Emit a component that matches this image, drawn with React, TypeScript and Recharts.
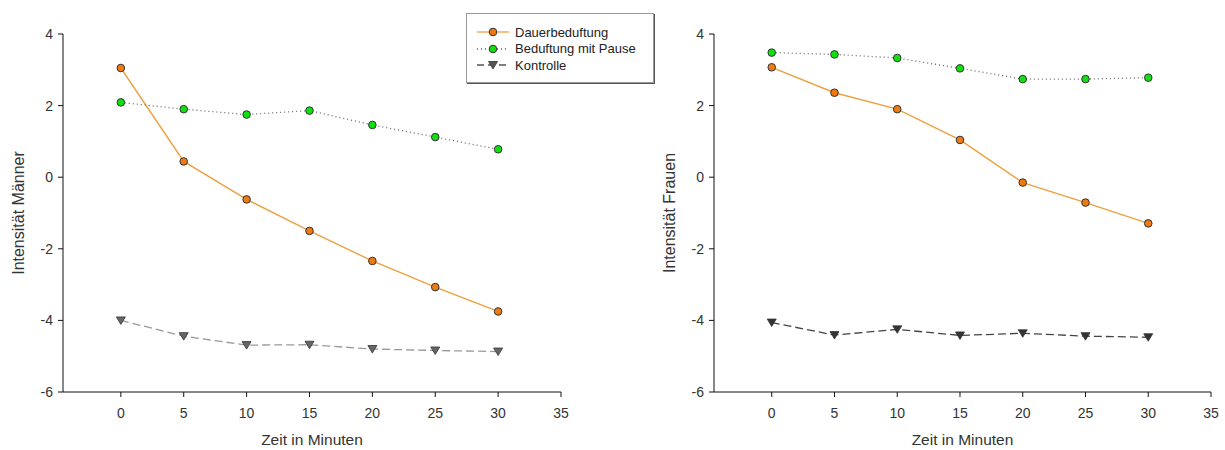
import React from "react";
import { LineChart, Line, XAxis, YAxis } from "recharts";

// ── data ──
const minutes = [0, 5, 10, 15, 20, 25, 30];
const seriesNames = ["Dauerbeduftung", "Beduftung mit Pause", "Kontrolle"];

const maennerDauer = [3.05, 0.44, -0.62, -1.5, -2.34, -3.07, -3.75];
const maennerPause = [2.09, 1.9, 1.75, 1.86, 1.46, 1.12, 0.78];
const maennerKontrolle = [-4.0, -4.44, -4.69, -4.68, -4.8, -4.84, -4.87];

const frauenDauer = [3.07, 2.36, 1.9, 1.04, -0.15, -0.71, -1.29];
const frauenPause = [3.48, 3.43, 3.33, 3.04, 2.74, 2.74, 2.78];
const frauenKontrolle = [-4.06, -4.41, -4.25, -4.42, -4.36, -4.44, -4.47];

const xTicks = [0, 5, 10, 15, 20, 25, 30, 35];
const yTicks = [-6, -4, -2, 0, 2, 4];

const buildRows = (a: number[], b: number[], c: number[]) =>
  minutes.map((m, i) => ({ t: m, dauer: a[i], pause: b[i], kontrolle: c[i] }));

const maennerRows = buildRows(maennerDauer, maennerPause, maennerKontrolle);
const frauenRows = buildRows(frauenDauer, frauenPause, frauenKontrolle);

const FONT = "'Liberation Sans', Arial, sans-serif";
const TEXT = "#333";

const ORANGE_LINE = "#EDA040";
const ORANGE_DOT = "#F07A10";
const GREEN_DOT = "#10E010";

// ── markers ──
const Circle = ({ cx, cy, fill }: any) =>
  cx == null || cy == null ? null : (
    <circle cx={cx} cy={cy} r={3.8} fill={fill} stroke="#333" strokeWidth={1} />
  );

const Triangle = ({ cx, cy, fill }: any) =>
  cx == null || cy == null ? null : (
    <path
      d={`M${cx - 4.5},${cy - 3.5} L${cx + 4.5},${cy - 3.5} L${cx},${cy + 4} Z`}
      fill={fill}
      stroke="#333"
      strokeWidth={0.8}
    />
  );

// ── legend box ──
const LegendBox = () => {
  const rows = [
    { stroke: ORANGE_LINE, dash: undefined, marker: "c", fill: ORANGE_DOT },
    { stroke: "#666", dash: "1 3", marker: "c", fill: GREEN_DOT },
    { stroke: "#555", dash: "7 4", marker: "t", fill: "#555" },
  ];
  return (
    <div
      style={{
        position: "absolute",
        left: 466,
        top: 13,
        width: 188,
        height: 70,
        border: "1px solid #999",
        boxShadow: "1px 1px 0 #555",
        background: "#fff",
        fontFamily: FONT,
        fontSize: 13,
        color: "#222",
        paddingTop: 10,
        boxSizing: "border-box",
      }}
    >
      {rows.map((r, i) => (
        <div key={i} style={{ display: "flex", alignItems: "center", height: 16.5 }}>
          <svg width={48} height={14} style={{ flex: "none" }}>
            <line x1={10} y1={7} x2={42} y2={7} stroke={r.stroke} strokeWidth={1.3} strokeDasharray={r.dash} />
            {r.marker === "c" ? (
              <Circle cx={26} cy={7} fill={r.fill} />
            ) : (
              <Triangle cx={26} cy={7} fill={r.fill} />
            )}
          </svg>
          <span style={{ whiteSpace: "nowrap" }}>{seriesNames[i]}</span>
        </div>
      ))}
    </div>
  );
};

function Panel({
  rows,
  yLabel,
  width,
  marginRight,
  kontrolleColor,
  kontrolleFill,
}: {
  rows: any[];
  yLabel: string;
  width: number;
  marginRight: number;
  kontrolleColor: string;
  kontrolleFill: string;
}) {
  return (
    <LineChart width={width} height={450} data={rows} margin={{ top: 34, right: marginRight, bottom: 0, left: 0 }}>
      <XAxis
        dataKey="t"
        type="number"
        domain={[-4.6, 35]}
        ticks={xTicks}
        allowDataOverflow
        height={58}
        stroke="#111"
        tickSize={5}
        tickMargin={11}
        tick={{ fill: TEXT, fontSize: 14, fontFamily: FONT }}
        label={{
          value: "Zeit in Minuten",
          position: "insideBottom",
          offset: 5,
          style: { fill: TEXT, fontSize: 15.5, fontFamily: FONT },
        }}
      />
      <YAxis
        type="number"
        domain={[-6, 4]}
        ticks={yTicks}
        width={63}
        stroke="#111"
        tickSize={5}
        tickMargin={5}
        tick={{ fill: TEXT, fontSize: 14, fontFamily: FONT }}
        label={{
          value: yLabel,
          angle: -90,
          position: "insideLeft",
          offset: 18,
          style: { fill: TEXT, fontSize: 16, fontFamily: FONT, textAnchor: "middle" },
        }}
      />
      <Line
        name={seriesNames[0]}
        dataKey="dauer"
        type="linear"
        stroke={ORANGE_LINE}
        strokeWidth={1.4}
        dot={<Circle fill={ORANGE_DOT} />}
        isAnimationActive={false}
      />
      <Line
        name={seriesNames[1]}
        dataKey="pause"
        type="linear"
        stroke="#666"
        strokeWidth={1.3}
        strokeDasharray="1 3"
        dot={<Circle fill={GREEN_DOT} />}
        isAnimationActive={false}
      />
      <Line
        name={seriesNames[2]}
        dataKey="kontrolle"
        type="linear"
        stroke={kontrolleColor}
        strokeWidth={1.3}
        strokeDasharray="8 4"
        dot={<Triangle fill={kontrolleFill} />}
        isAnimationActive={false}
      />
    </LineChart>
  );
}

export default function App() {
  return (
    <div style={{ position: "absolute", left: 0, top: 0, width: 1225, height: 450, background: "#fff" }}>
      <div style={{ position: "absolute", left: 0, top: 0 }}>
        <Panel
          rows={maennerRows}
          yLabel="Intensität Männer"
          width={600}
          marginRight={39}
          kontrolleColor="#999"
          kontrolleFill="#666"
        />
      </div>
      <div style={{ position: "absolute", left: 651, top: 0 }}>
        <Panel
          rows={frauenRows}
          yLabel="Intensität Frauen"
          width={574}
          marginRight={14}
          kontrolleColor="#444"
          kontrolleFill="#333"
        />
      </div>
      <LegendBox />
    </div>
  );
}
